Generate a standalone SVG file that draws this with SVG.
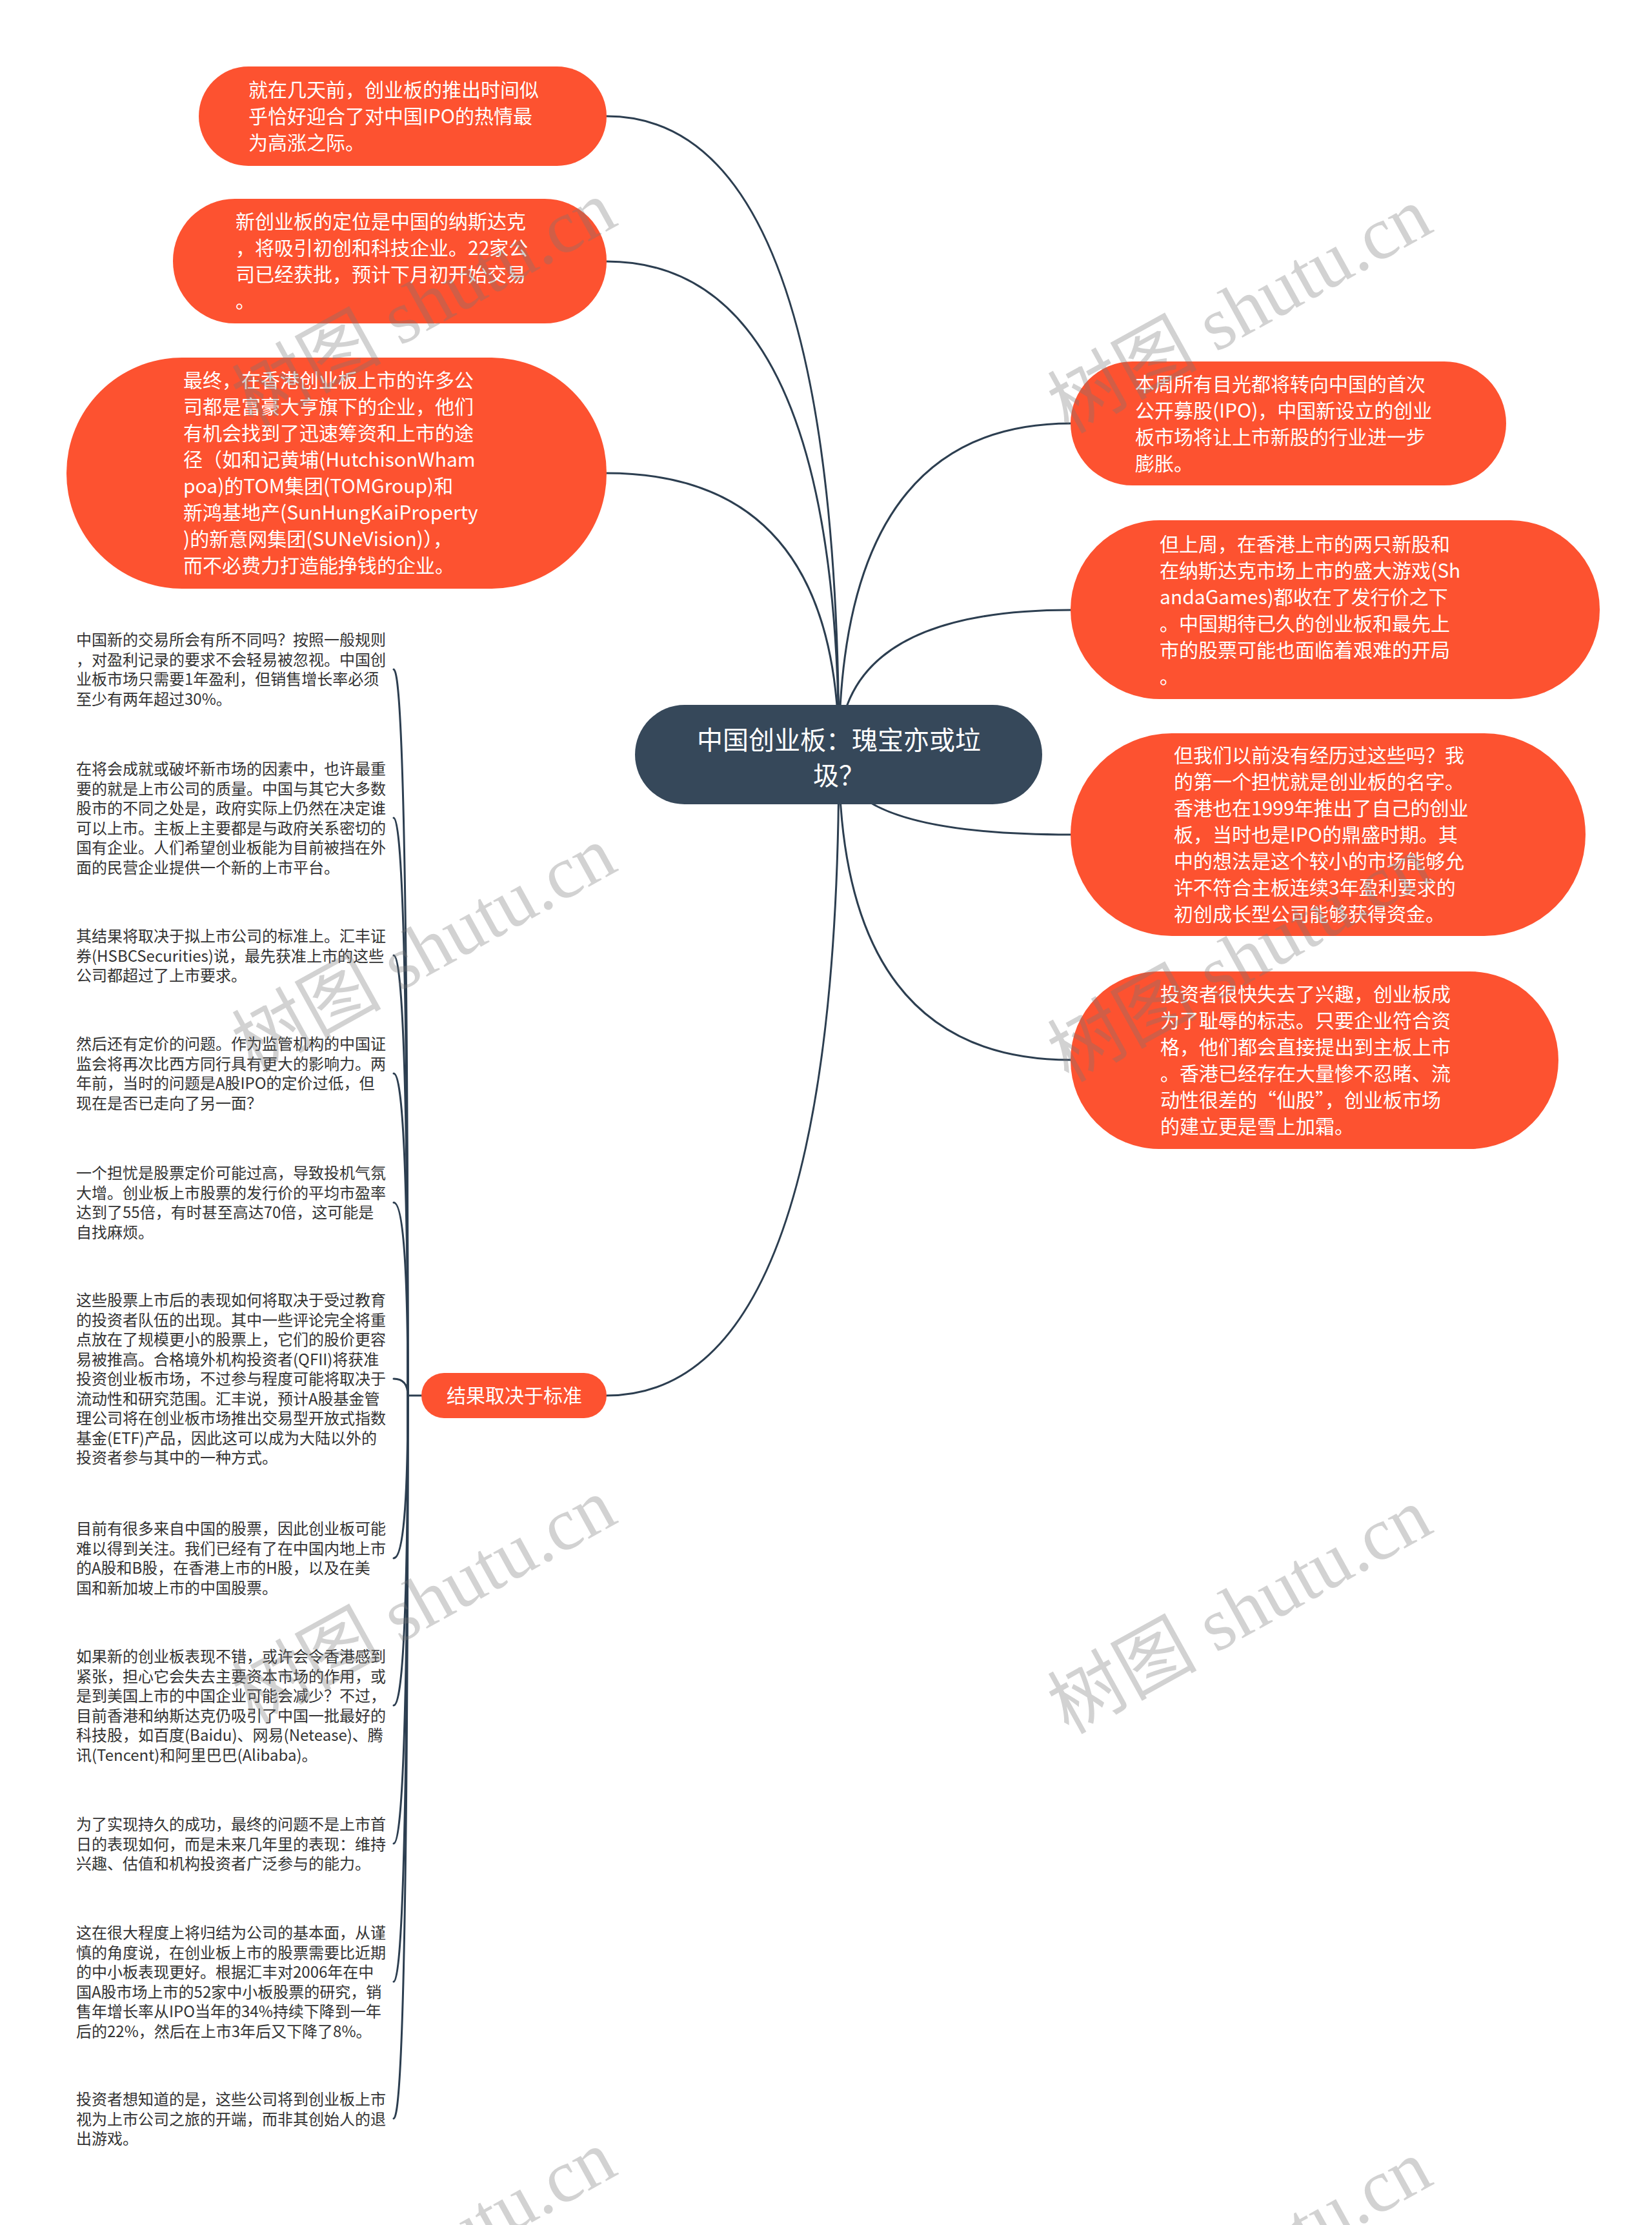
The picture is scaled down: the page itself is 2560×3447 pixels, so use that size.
<svg xmlns="http://www.w3.org/2000/svg" width="2560" height="3447" viewBox="0 0 2560 3447">
<style>
.bub{fill:#fd5230;}
.ctr{fill:#36485a;}
.bt{font-family:"Noto Sans CJK SC","Noto Sans",sans-serif;font-size:30px;fill:#ffffff;}
.ct{font-family:"Noto Sans CJK SC","Noto Sans",sans-serif;font-size:40px;fill:#ffffff;text-anchor:middle;}
.lt{font-family:"Noto Sans CJK SC","Noto Sans",sans-serif;font-size:24px;fill:#333333;}
.conn{fill:none;stroke:#2c3e50;stroke-width:3;stroke-linecap:round;}
.wm{font-family:"Liberation Serif","Noto Sans CJK SC",serif;font-size:116px;fill:#777777;fill-opacity:0.33;text-anchor:middle;}
</style>
<rect width="2560" height="3447" fill="#ffffff"/>
<g id="connectors">
<path class="conn" d="M1300,1169 Q1300,180 940,180"/>
<path class="conn" d="M1300,1169 Q1300,405 940,405"/>
<path class="conn" d="M1300,1169 Q1300,733 940,733"/>
<path class="conn" d="M1300,1169 Q1300,656 1659,656"/>
<path class="conn" d="M1300,1169 Q1300,945 1659,945"/>
<path class="conn" d="M1300,1169 Q1300,1293 1659,1293"/>
<path class="conn" d="M1300,1169 Q1300,1642 1659,1642"/>
<path class="conn" d="M1300,1169 Q1300,2162 940,2162"/>
<path class="conn" d="M653,2162 L632,2162"/>
<path class="conn" d="M632,2162 Q632,1037 610,1037"/>
<path class="conn" d="M632,2162 Q632,1267 610,1267"/>
<path class="conn" d="M632,2162 Q632,1480 610,1480"/>
<path class="conn" d="M632,2162 Q632,1663 610,1663"/>
<path class="conn" d="M632,2162 Q632,1863 610,1863"/>
<path class="conn" d="M632,2162 Q632,2136 610,2136"/>
<path class="conn" d="M632,2162 Q632,2414 610,2414"/>
<path class="conn" d="M632,2162 Q632,2642 610,2642"/>
<path class="conn" d="M632,2162 Q632,2856 610,2856"/>
<path class="conn" d="M632,2162 Q632,3070 610,3070"/>
<path class="conn" d="M632,2162 Q632,3282 610,3282"/>
</g>
<g id="center">
<rect class="ctr" x="984" y="1092" width="631" height="154" rx="77"/>
<text class="ct"><tspan x="1300" y="1161">中国创业板：瑰宝亦或垃</tspan><tspan x="1300" y="1216">圾？</tspan></text>
</g>
<g id="node-l1">
<rect class="bub" x="308" y="103" width="632" height="154" rx="77"/>
<text class="bt"><tspan x="385" y="150">就在几天前，创业板的推出时间似</tspan><tspan x="385" y="191">乎恰好迎合了对中国IPO的热情最</tspan><tspan x="385" y="232">为高涨之际。</tspan></text>
</g>
<g id="node-l2">
<rect class="bub" x="268" y="308" width="672" height="193" rx="96"/>
<text class="bt"><tspan x="365" y="354">新创业板的定位是中国的纳斯达克</tspan><tspan x="365" y="395">，将吸引初创和科技企业。22家公</tspan><tspan x="365" y="436">司已经获批，预计下月初开始交易</tspan><tspan x="365" y="477">。</tspan></text>
</g>
<g id="node-l3">
<rect class="bub" x="103" y="554" width="837" height="358" rx="179"/>
<text class="bt"><tspan x="284" y="600">最终，在香港创业板上市的许多公</tspan><tspan x="284" y="641">司都是富豪大亨旗下的企业，他们</tspan><tspan x="284" y="682">有机会找到了迅速筹资和上市的途</tspan><tspan x="284" y="723">径（如和记黄埔(HutchisonWham</tspan><tspan x="284" y="764">poa)的TOM集团(TOMGroup)和</tspan><tspan x="284" y="805">新鸿基地产(SunHungKaiProperty</tspan><tspan x="284" y="846">)的新意网集团(SUNeVision)），</tspan><tspan x="284" y="887">而不必费力打造能挣钱的企业。</tspan></text>
</g>
<g id="node-r1">
<rect class="bub" x="1659" y="560" width="675" height="192" rx="96"/>
<text class="bt"><tspan x="1759" y="606">本周所有目光都将转向中国的首次</tspan><tspan x="1759" y="647">公开募股(IPO)，中国新设立的创业</tspan><tspan x="1759" y="688">板市场将让上市新股的行业进一步</tspan><tspan x="1759" y="729">膨胀。</tspan></text>
</g>
<g id="node-r2">
<rect class="bub" x="1659" y="806" width="820" height="277" rx="138"/>
<text class="bt"><tspan x="1797" y="854">但上周，在香港上市的两只新股和</tspan><tspan x="1797" y="895">在纳斯达克市场上市的盛大游戏(Sh</tspan><tspan x="1797" y="936">andaGames)都收在了发行价之下</tspan><tspan x="1797" y="977">。中国期待已久的创业板和最先上</tspan><tspan x="1797" y="1018">市的股票可能也面临着艰难的开局</tspan><tspan x="1797" y="1059">。</tspan></text>
</g>
<g id="node-r3">
<rect class="bub" x="1659" y="1136" width="798" height="314" rx="157"/>
<text class="bt"><tspan x="1819" y="1181">但我们以前没有经历过这些吗？我</tspan><tspan x="1819" y="1222">的第一个担忧就是创业板的名字。</tspan><tspan x="1819" y="1263">香港也在1999年推出了自己的创业</tspan><tspan x="1819" y="1304">板，当时也是IPO的鼎盛时期。其</tspan><tspan x="1819" y="1345">中的想法是这个较小的市场能够允</tspan><tspan x="1819" y="1386">许不符合主板连续3年盈利要求的</tspan><tspan x="1819" y="1427">初创成长型公司能够获得资金。</tspan></text>
</g>
<g id="node-r4">
<rect class="bub" x="1659" y="1505" width="756" height="275" rx="137"/>
<text class="bt"><tspan x="1798" y="1551">投资者很快失去了兴趣，创业板成</tspan><tspan x="1798" y="1592">为了耻辱的标志。只要企业符合资</tspan><tspan x="1798" y="1633">格，他们都会直接提出到主板上市</tspan><tspan x="1798" y="1674">。香港已经存在大量惨不忍睹、流</tspan><tspan x="1798" y="1715">动性很差的“仙股”，创业板市场</tspan><tspan x="1798" y="1756">的建立更是雪上加霜。</tspan></text>
</g>
<g id="node-standard">
<rect class="bub" x="653" y="2127" width="287" height="70" rx="35"/>
<text class="bt" x="797" y="2173" text-anchor="middle">结果取决于标准</text>
</g>
<g id="leaf-1"><text class="lt"><tspan x="118" y="1000">中国新的交易所会有所不同吗？按照一般规则</tspan><tspan x="118" dy="30.5">，对盈利记录的要求不会轻易被忽视。中国创</tspan><tspan x="118" dy="30.5">业板市场只需要1年盈利，但销售增长率必须</tspan><tspan x="118" dy="30.5">至少有两年超过30%。</tspan></text></g>
<g id="leaf-2"><text class="lt"><tspan x="118" y="1200">在将会成就或破坏新市场的因素中，也许最重</tspan><tspan x="118" dy="30.5">要的就是上市公司的质量。中国与其它大多数</tspan><tspan x="118" dy="30.5">股市的不同之处是，政府实际上仍然在决定谁</tspan><tspan x="118" dy="30.5">可以上市。主板上主要都是与政府关系密切的</tspan><tspan x="118" dy="30.5">国有企业。人们希望创业板能为目前被挡在外</tspan><tspan x="118" dy="30.5">面的民营企业提供一个新的上市平台。</tspan></text></g>
<g id="leaf-3"><text class="lt"><tspan x="118" y="1459">其结果将取决于拟上市公司的标准上。汇丰证</tspan><tspan x="118" dy="30.5">券(HSBCSecurities)说，最先获准上市的这些</tspan><tspan x="118" dy="30.5">公司都超过了上市要求。</tspan></text></g>
<g id="leaf-4"><text class="lt"><tspan x="118" y="1626">然后还有定价的问题。作为监管机构的中国证</tspan><tspan x="118" dy="30.5">监会将再次比西方同行具有更大的影响力。两</tspan><tspan x="118" dy="30.5">年前，当时的问题是A股IPO的定价过低，但</tspan><tspan x="118" dy="30.5">现在是否已走向了另一面？</tspan></text></g>
<g id="leaf-5"><text class="lt"><tspan x="118" y="1826">一个担忧是股票定价可能过高，导致投机气氛</tspan><tspan x="118" dy="30.5">大增。创业板上市股票的发行价的平均市盈率</tspan><tspan x="118" dy="30.5">达到了55倍，有时甚至高达70倍，这可能是</tspan><tspan x="118" dy="30.5">自找麻烦。</tspan></text></g>
<g id="leaf-6"><text class="lt"><tspan x="118" y="2023">这些股票上市后的表现如何将取决于受过教育</tspan><tspan x="118" dy="30.5">的投资者队伍的出现。其中一些评论完全将重</tspan><tspan x="118" dy="30.5">点放在了规模更小的股票上，它们的股价更容</tspan><tspan x="118" dy="30.5">易被推高。合格境外机构投资者(QFII)将获准</tspan><tspan x="118" dy="30.5">投资创业板市场，不过参与程度可能将取决于</tspan><tspan x="118" dy="30.5">流动性和研究范围。汇丰说，预计A股基金管</tspan><tspan x="118" dy="30.5">理公司将在创业板市场推出交易型开放式指数</tspan><tspan x="118" dy="30.5">基金(ETF)产品，因此这可以成为大陆以外的</tspan><tspan x="118" dy="30.5">投资者参与其中的一种方式。</tspan></text></g>
<g id="leaf-7"><text class="lt"><tspan x="118" y="2377">目前有很多来自中国的股票，因此创业板可能</tspan><tspan x="118" dy="30.5">难以得到关注。我们已经有了在中国内地上市</tspan><tspan x="118" dy="30.5">的A股和B股，在香港上市的H股，以及在美</tspan><tspan x="118" dy="30.5">国和新加坡上市的中国股票。</tspan></text></g>
<g id="leaf-8"><text class="lt"><tspan x="118" y="2575">如果新的创业板表现不错，或许会令香港感到</tspan><tspan x="118" dy="30.5">紧张，担心它会失去主要资本市场的作用，或</tspan><tspan x="118" dy="30.5">是到美国上市的中国企业可能会减少？不过，</tspan><tspan x="118" dy="30.5">目前香港和纳斯达克仍吸引了中国一批最好的</tspan><tspan x="118" dy="30.5">科技股，如百度(Baidu)、网易(Netease)、腾</tspan><tspan x="118" dy="30.5">讯(Tencent)和阿里巴巴(Alibaba)。</tspan></text></g>
<g id="leaf-9"><text class="lt"><tspan x="118" y="2835">为了实现持久的成功，最终的问题不是上市首</tspan><tspan x="118" dy="30.5">日的表现如何，而是未来几年里的表现：维持</tspan><tspan x="118" dy="30.5">兴趣、估值和机构投资者广泛参与的能力。</tspan></text></g>
<g id="leaf-10"><text class="lt"><tspan x="118" y="3003">这在很大程度上将归结为公司的基本面，从谨</tspan><tspan x="118" dy="30.5">慎的角度说，在创业板上市的股票需要比近期</tspan><tspan x="118" dy="30.5">的中小板表现更好。根据汇丰对2006年在中</tspan><tspan x="118" dy="30.5">国A股市场上市的52家中小板股票的研究，销</tspan><tspan x="118" dy="30.5">售年增长率从IPO当年的34%持续下降到一年</tspan><tspan x="118" dy="30.5">后的22%，然后在上市3年后又下降了8%。</tspan></text></g>
<g id="leaf-11"><text class="lt"><tspan x="118" y="3261">投资者想知道的是，这些公司将到创业板上市</tspan><tspan x="118" dy="30.5">视为上市公司之旅的开端，而非其创始人的退</tspan><tspan x="118" dy="30.5">出游戏。</tspan></text></g>
<g id="watermarks">
<text class="wm" transform="translate(676,505) rotate(-29)">树图 shutu.cn</text>
<text class="wm" transform="translate(1940,515) rotate(-29)">树图 shutu.cn</text>
<text class="wm" transform="translate(676,1505) rotate(-29)">树图 shutu.cn</text>
<text class="wm" transform="translate(1940,1520) rotate(-29)">树图 shutu.cn</text>
<text class="wm" transform="translate(676,2515) rotate(-29)">树图 shutu.cn</text>
<text class="wm" transform="translate(1940,2530) rotate(-29)">树图 shutu.cn</text>
<text class="wm" transform="translate(676,3525) rotate(-29)">树图 shutu.cn</text>
<text class="wm" transform="translate(1940,3540) rotate(-29)">树图 shutu.cn</text>
</g>
</svg>
